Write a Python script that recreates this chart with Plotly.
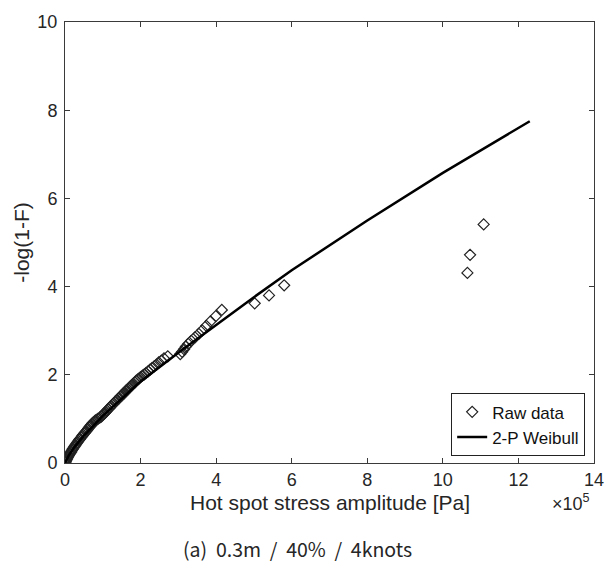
import plotly.graph_objects as go

# Raw data: hot spot stress amplitude (x 1e5 Pa) and -log(1-F)
raw_x = [11.08, 10.72, 10.65, 5.80, 5.40, 5.02, 4.15, 3.99, 3.85, 3.74, 3.63, 3.54, 3.44, 3.34,
         3.26, 3.20, 3.15, 3.10, 3.05, 2.72, 2.62, 2.55, 2.48, 2.42, 2.36, 2.30, 2.25, 2.20,
         2.14, 2.10, 2.05, 2.00, 1.95, 1.92, 1.88, 1.85, 1.81, 1.78, 1.75, 1.72, 1.69, 1.66,
         1.63, 1.61, 1.58, 1.56, 1.53, 1.51, 1.48, 1.46, 1.42, 1.37, 1.33, 1.29, 1.25, 1.21,
         1.18, 1.14, 1.11, 1.08, 1.05, 1.02, 0.99, 0.96, 0.92, 0.87,
         0.83, 0.80, 0.78, 0.74, 0.72, 0.69, 0.67, 0.64, 0.615, 0.59, 0.56, 0.53, 0.51, 0.48,
         0.455, 0.43, 0.40, 0.38, 0.355, 0.33, 0.305, 0.28, 0.265, 0.24, 0.215, 0.20, 0.18,
         0.16, 0.135, 0.12, 0.10, 0.08, 0.065, 0.05, 0.038, 0.025, 0.015, 0.007, 0.002]
raw_y = [5.41, 4.72, 4.31, 4.03, 3.80, 3.62, 3.47, 3.33, 3.21, 3.11, 3.01, 2.93, 2.85, 2.77,
         2.70, 2.64, 2.58, 2.52, 2.47, 2.42, 2.37, 2.32, 2.28, 2.23, 2.19, 2.15, 2.12, 2.08,
         2.04, 2.01, 1.98, 1.95, 1.91, 1.89, 1.86, 1.83, 1.80, 1.77, 1.75, 1.72, 1.70, 1.67,
         1.65, 1.63, 1.60, 1.58, 1.56, 1.54, 1.52, 1.50, 1.46, 1.42, 1.39, 1.35, 1.32, 1.28,
         1.25, 1.22, 1.19, 1.16, 1.13, 1.11, 1.08, 1.05, 1.03, 1.00,
         0.98, 0.96, 0.94, 0.91, 0.89, 0.86, 0.84, 0.81, 0.78, 0.75, 0.72, 0.69, 0.67, 0.64,
         0.61, 0.58, 0.55, 0.53, 0.50, 0.47, 0.44, 0.41, 0.39, 0.36, 0.33, 0.31, 0.28,
         0.25, 0.22, 0.20, 0.17, 0.14, 0.12, 0.09, 0.07, 0.05, 0.03, 0.015, 0.004]

# 2-P Weibull fitted curve
fit_x = [0, 0.1, 0.25, 0.5, 1, 1.5, 2, 3, 4, 5, 6, 8, 10, 12.3]
fit_y = [0, 0.17, 0.36, 0.62, 1.07, 1.47, 1.85, 2.50, 3.14, 3.76, 4.37, 5.50, 6.58, 7.75]

x_ticks = [0, 2, 4, 6, 8, 10, 12, 14]
y_ticks = [0, 2, 4, 6, 8, 10]

FONT = "Liberation Sans, Arial, sans-serif"
AX = "#3a3a3a"
TXT = "#262626"

fig = go.Figure()
fig.add_trace(go.Scatter(
    x=raw_x, y=raw_y, mode="markers", name="Raw data",
    marker=dict(symbol="diamond-open", size=8.5, color="#222222", line=dict(width=1.2, color="#222222")),
))
fig.add_trace(go.Scatter(
    x=fit_x, y=fit_y, mode="lines", name="2-P Weibull",
    line=dict(color="black", width=2.5),
))

axis_common = dict(
    showgrid=False, zeroline=False, showline=True, linecolor=AX, linewidth=1,
    mirror="ticks", ticks="inside", ticklen=5, tickcolor=AX, tickwidth=1,
    tickfont=dict(family=FONT, size=18, color=TXT),
)
fig.update_xaxes(range=[0, 14], tickvals=x_ticks, ticktext=[str(v) for v in x_ticks],
                 **axis_common)
fig.update_yaxes(range=[0, 10], tickvals=y_ticks, ticktext=[str(v) for v in y_ticks],
                 ticklabelstandoff=3,
                 title=dict(text="-log(1-F)", standoff=2,
                            font=dict(family=FONT, size=21, color=TXT)),
                 **axis_common)

# x-axis title placed as annotation to match reference position
fig.add_annotation(text="Hot spot stress amplitude [Pa]", xref="paper", yref="paper",
                   x=0.5, y=0, yshift=-39, xanchor="center", yanchor="middle", showarrow=False,
                   font=dict(family=FONT, size=21, color=TXT))
fig.add_annotation(text="×10<sup>5</sup>", xref="paper", yref="paper", x=1.0, y=0,
                   yshift=-39, xshift=-2, xanchor="right", yanchor="middle", showarrow=False,
                   font=dict(family=FONT, size=18, color=TXT))
fig.add_annotation(text="(a)  0.3m  /  40%  /  4knots", xref="paper", yref="paper",
                   x=0.440, y=0, yshift=-85, xanchor="center", yanchor="middle", showarrow=False,
                   font=dict(family="Noto Sans CJK KR, Noto Sans, sans-serif", size=19.5, color=TXT))

fig.update_layout(
    width=616, height=565,
    margin=dict(l=65, r=15, t=20, b=102),
    plot_bgcolor="white", paper_bgcolor="white",
    showlegend=True,
    legend=dict(x=0.73, y=0.158, xanchor="left", yanchor="top",
                bgcolor="white", bordercolor="#222222", borderwidth=1,
                font=dict(family=FONT, size=17, color="#111111"),
                tracegroupgap=0, itemwidth=30),
)

fig.write_html("out.html")
